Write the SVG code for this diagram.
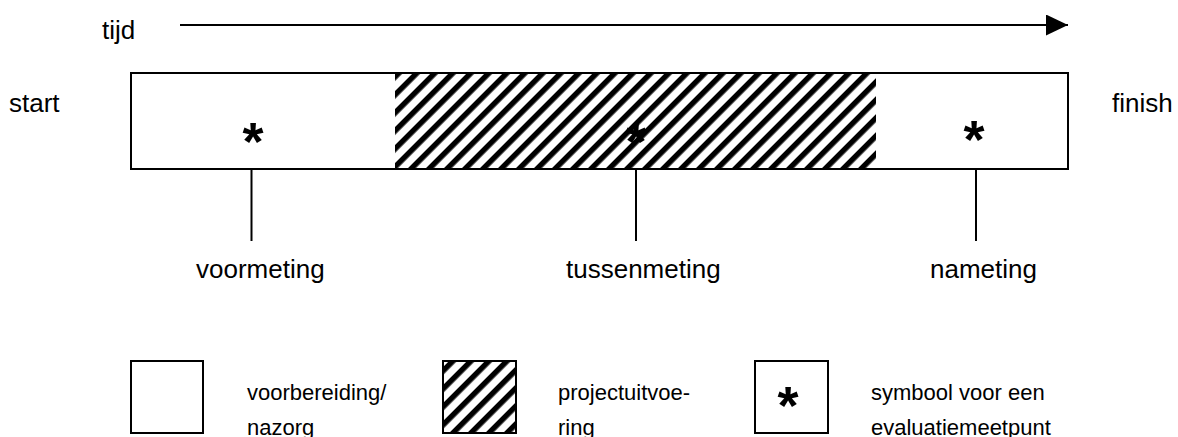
<svg xmlns="http://www.w3.org/2000/svg" width="1178" height="437" viewBox="0 0 1178 437">
<style>
  .t { font-family: "Liberation Sans", Arial, sans-serif; font-size: 26px; fill: #000; }
  .lg { font-family: "Liberation Sans", Arial, sans-serif; font-size: 22px; fill: #000; }
  .ast { font-family: "Liberation Sans", Arial, sans-serif; font-size: 54px; font-weight: bold; fill: #000; text-anchor: middle; }
  .box { fill: #fff; stroke: #000; stroke-width: 2; }
  .hatch { fill: url(#hatch); }
  .ln { stroke: #000; stroke-width: 2; fill: none; }
</style>
<defs>
  <pattern id="hatch" patternUnits="userSpaceOnUse" width="12.73" height="20" patternTransform="rotate(45)">
    <rect x="0" y="0" width="12.73" height="20" fill="#fff"/>
    <rect x="0" y="0" width="5.5" height="20" fill="#000"/>
  </pattern>
  <marker id="arrow" markerUnits="userSpaceOnUse" markerWidth="23" markerHeight="21" refX="22" refY="10.5" orient="auto">
    <path d="M0,0 L22,10.5 L0,21 Z" fill="#000"/>
  </marker>
</defs>

<g id="connectors">
  <line class="ln" x1="180" y1="25" x2="1068" y2="25" marker-end="url(#arrow)"/>
  <line class="ln" x1="251.5" y1="145" x2="251.5" y2="241"/>
  <line class="ln" x1="636" y1="145" x2="636" y2="241"/>
  <line class="ln" x1="976" y1="139" x2="976" y2="241"/>
</g>

<g id="timeline">
  <rect x="131" y="73" width="937" height="96" fill="#fff"/>
  <rect class="hatch" x="395" y="73" width="481" height="96"/>
  <rect x="131" y="73" width="937" height="96" fill="none" stroke="#000" stroke-width="2"/>
</g>

<g id="labels">
  <text class="t" x="102" y="39">tijd</text>
  <text class="t" x="9" y="112">start</text>
  <text class="t" x="1112" y="112">finish</text>
</g>

<g id="voormeting">
  <text class="ast" x="253" y="160">*</text>
  <text class="t" x="196" y="278">voormeting</text>
</g>
<g id="tussenmeting">
  <text class="ast" x="636" y="160">*</text>
  <text class="t" x="566" y="278">tussenmeting</text>
</g>
<g id="nameting">
  <text class="ast" x="974" y="158">*</text>
  <text class="t" x="930" y="278">nameting</text>
</g>

<g id="legend-voorbereiding">
  <rect class="box" x="131" y="361" width="72" height="72"/>
  <text class="lg" x="247" y="400">voorbereiding/</text>
  <text class="lg" x="247" y="435">nazorg</text>
</g>
<g id="legend-projectuitvoering">
  <rect class="hatch" x="443" y="361" width="73" height="72"/>
  <rect x="443" y="361" width="73" height="72" fill="none" stroke="#000" stroke-width="2"/>
  <text class="lg" x="558" y="400">projectuitvoe-</text>
  <text class="lg" x="558" y="435">ring</text>
</g>
<g id="legend-meetpunt">
  <rect class="box" x="755" y="361" width="73" height="72"/>
  <text class="ast" x="788" y="424">*</text>
  <text class="lg" x="871" y="400">symbool voor een</text>
  <text class="lg" x="871" y="435">evaluatiemeetpunt</text>
</g>
</svg>
